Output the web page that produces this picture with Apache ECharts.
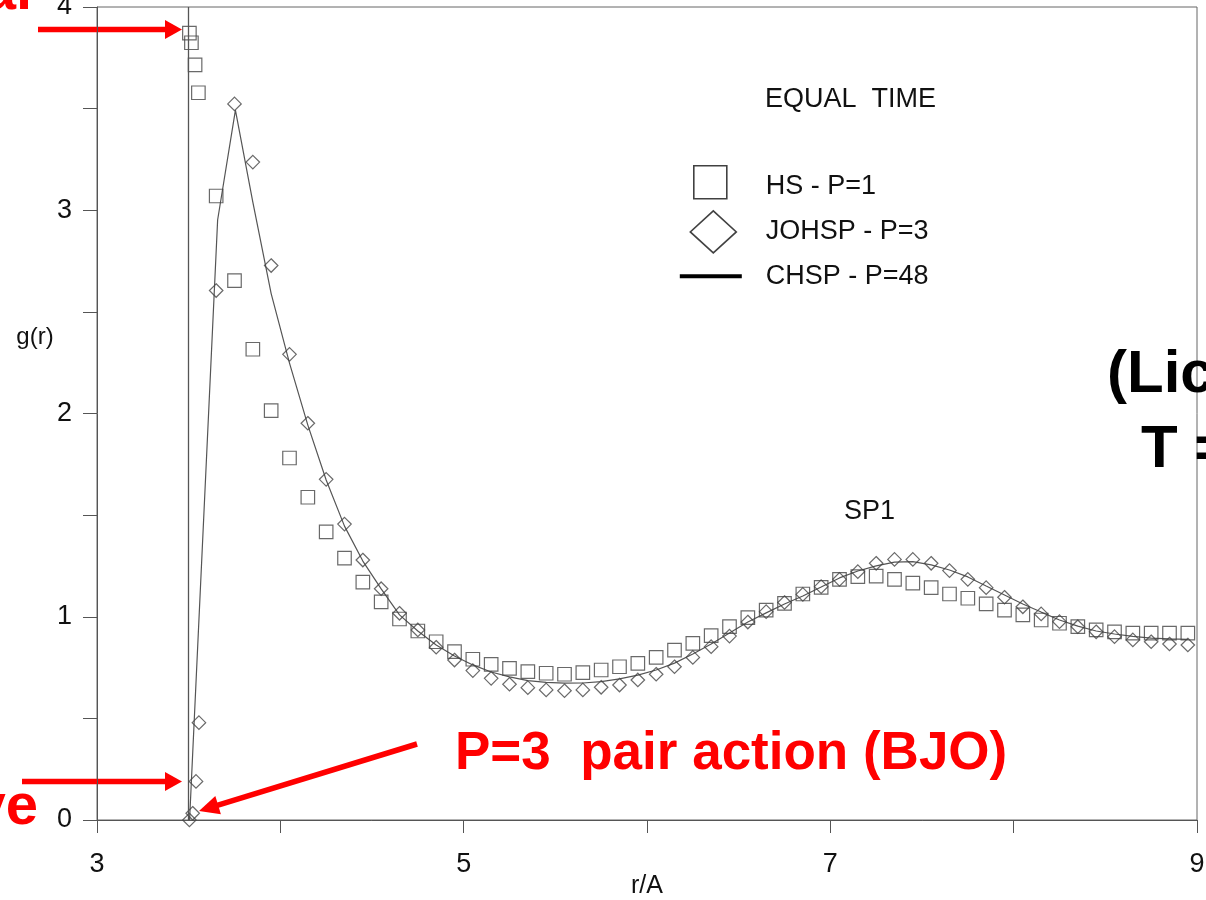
<!DOCTYPE html>
<html><head><meta charset="utf-8">
<script src="https://cdn.jsdelivr.net/npm/echarts@6/dist/echarts.min.js"></script>
<style>html,body{margin:0;padding:0;background:#fff;}#c{width:1206px;height:900px;}</style>
</head><body><div id="c"></div>
<script>
// ---- data ----
const xTickLabels = ['3', '5', '7', '9'];
const yTickLabels = ['0', '1', '2', '3', '4'];

// HS - P=1 (squares)
const hsR = [3.504, 3.515, 3.535, 3.553,
  3.65, 3.75, 3.85, 3.95, 4.05, 4.15, 4.25, 4.35, 4.45, 4.55, 4.65, 4.75, 4.85, 4.95,
  5.05, 5.15, 5.25, 5.35, 5.45, 5.55, 5.65, 5.75, 5.85, 5.95, 6.05, 6.15, 6.25, 6.35,
  6.45, 6.55, 6.65, 6.75, 6.85, 6.95, 7.05, 7.15, 7.25, 7.35, 7.45, 7.55, 7.65, 7.75,
  7.85, 7.95, 8.05, 8.15, 8.25, 8.35, 8.45, 8.55, 8.65, 8.75, 8.85, 8.95];
const hsG = [3.871, 3.824, 3.715, 3.578,
  3.070, 2.654, 2.316, 2.014, 1.781, 1.588, 1.418, 1.288, 1.170, 1.073, 0.989, 0.930, 0.877, 0.828,
  0.791, 0.766, 0.746, 0.730, 0.722, 0.717, 0.725, 0.738, 0.754, 0.771, 0.800, 0.836, 0.869, 0.907,
  0.951, 0.996, 1.033, 1.066, 1.112, 1.145, 1.184, 1.197, 1.200, 1.184, 1.165, 1.143, 1.112, 1.091,
  1.063, 1.033, 1.009, 0.984, 0.968, 0.951, 0.935, 0.926, 0.919, 0.919, 0.919, 0.919];

// JOHSP - P=3 (diamonds)
const joR = [3.504, 3.522, 3.540, 3.556,
  3.65, 3.75, 3.85, 3.95, 4.05, 4.15, 4.25, 4.35, 4.45, 4.55, 4.65, 4.75, 4.85, 4.95,
  5.05, 5.15, 5.25, 5.35, 5.45, 5.55, 5.65, 5.75, 5.85, 5.95, 6.05, 6.15, 6.25, 6.35,
  6.45, 6.55, 6.65, 6.75, 6.85, 6.95, 7.05, 7.15, 7.25, 7.35, 7.45, 7.55, 7.65, 7.75,
  7.85, 7.95, 8.05, 8.15, 8.25, 8.35, 8.45, 8.55, 8.65, 8.75, 8.85, 8.95];
const joG = [0.000, 0.033, 0.190, 0.479,
  2.605, 3.523, 3.237, 2.728, 2.291, 1.952, 1.676, 1.456, 1.279, 1.138, 1.017, 0.935, 0.850, 0.787,
  0.735, 0.697, 0.668, 0.651, 0.640, 0.636, 0.640, 0.653, 0.664, 0.689, 0.717, 0.754, 0.800, 0.853,
  0.905, 0.974, 1.025, 1.070, 1.110, 1.148, 1.184, 1.222, 1.263, 1.282, 1.282, 1.263, 1.227, 1.184,
  1.143, 1.096, 1.049, 1.014, 0.976, 0.951, 0.926, 0.902, 0.886, 0.877, 0.866, 0.861];

// CHSP - P=48 (line)
const chR = [3.505, 3.658, 3.755,
  3.85, 3.95, 4.05, 4.15, 4.25, 4.35, 4.45, 4.55, 4.65, 4.75, 4.85, 4.95,
  5.05, 5.15, 5.25, 5.35, 5.45, 5.55, 5.65, 5.75, 5.85, 5.95, 6.05, 6.15, 6.25, 6.35,
  6.45, 6.55, 6.65, 6.75, 6.85, 6.95, 7.05, 7.15, 7.25, 7.35, 7.45, 7.55, 7.65, 7.75,
  7.85, 7.95, 8.05, 8.15, 8.25, 8.35, 8.45, 8.55, 8.65, 8.75, 8.85, 8.95];
const chG = [0.000, 2.952, 3.493,
  3.040, 2.590, 2.248, 1.943, 1.673, 1.446, 1.274, 1.137, 1.009, 0.930, 0.861, 0.807,
  0.763, 0.728, 0.704, 0.686, 0.677, 0.673, 0.674, 0.681, 0.694, 0.713, 0.738, 0.772, 0.817, 0.866,
  0.920, 0.974, 1.019, 1.063, 1.102, 1.146, 1.191, 1.225, 1.250, 1.269, 1.271, 1.255, 1.230, 1.196,
  1.151, 1.107, 1.063, 1.023, 0.984, 0.954, 0.930, 0.915, 0.903, 0.895, 0.891, 0.889];

const hardCoreR = 3.505; // vertical reference line

const seriesNames = ['HS - P=1', 'JOHSP - P=3', 'CHSP - P=48'];

// ---- chart ----
const FONT = '"Liberation Sans", Arial, Helvetica, sans-serif';
const RED = '#ff0000';
const chart = echarts.init(document.getElementById('c'), null, { renderer: 'canvas' });

function pairs(xs, ys) { return xs.map((x, i) => [x, ys[i]]); }

function arrow(x1, y1, x2, y2, headLen, headW, w) {
  const dx = x2 - x1, dy = y2 - y1, L = Math.hypot(dx, dy);
  const ux = dx / L, uy = dy / L, px = -uy, py = ux;
  const bx = x2 - ux * headLen, by = y2 - uy * headLen;
  return [
    { type: 'line', silent: true, shape: { x1: x1, y1: y1, x2: bx + ux, y2: by + uy },
      style: { stroke: RED, lineWidth: w } },
    { type: 'polygon', silent: true,
      shape: { points: [[x2, y2], [bx + px * headW / 2, by + py * headW / 2], [bx - px * headW / 2, by - py * headW / 2]] },
      style: { fill: RED } }
  ];
}

function txt(text, x, y, size, opts) {
  opts = opts || {};
  return { type: 'text', x: x, y: y, silent: true, z: 100,
    style: { text: text, font: (opts.bold ? 'bold ' : '') + size + 'px ' + FONT,
      fill: opts.color || '#111', align: opts.align || 'left', verticalAlign: 'middle' } };
}

const markerStyle = { color: 'transparent', borderColor: '#444', borderWidth: 1.2 };

const option = {
  animation: false,
  backgroundColor: '#ffffff',
  grid: { left: 97, right: 9, top: 7, bottom: 80, containLabel: false, outerBoundsMode: 'none',
    show: true, borderColor: '#666', borderWidth: 1, backgroundColor: 'transparent' },
  xAxis: {
    type: 'value', min: 3, max: 9, interval: 1,
    axisLine: { lineStyle: { color: '#555', width: 1 } },
    axisTick: { length: 13, lineStyle: { color: '#555', width: 1 } },
    axisLabel: { fontSize: 27, color: '#111', fontFamily: FONT, margin: 31,
      formatter: v => (xTickLabels.indexOf(String(v)) >= 0 ? String(v) : '') },
    splitLine: { show: false },
    name: 'r/A', nameLocation: 'middle', nameGap: 54, nameMoveOverlap: false,
    nameTextStyle: { fontSize: 25, color: '#111', fontFamily: FONT }
  },
  yAxis: {
    type: 'value', min: 0, max: 4, interval: 0.5,
    axisLine: { show: true, lineStyle: { color: '#555', width: 1 } },
    axisTick: { show: true, length: 14, lineStyle: { color: '#555', width: 1 } },
    axisLabel: { fontSize: 27, color: '#111', fontFamily: FONT, margin: 25,
      formatter: v => (yTickLabels.indexOf(String(v)) >= 0 ? String(v) : '') },
    splitLine: { show: false }
  },
  legend: {
    orient: 'vertical', left: 679, top: 165, padding: 0,
    itemWidth: 62, itemHeight: 42, itemGap: 1.5, selectedMode: false,
    textStyle: { fontSize: 27, color: '#111', fontFamily: FONT, padding: [0, 0, 0, 19] },
    data: [
      { name: seriesNames[0], icon: 'path://M0,0M62,42M14,0h33v33h-33z',
        itemStyle: { color: 'transparent', borderColor: '#111', borderWidth: 1.6 } },
      { name: seriesNames[1], icon: 'path://M0,0M62,42M33.5,0L56.5,21L33.5,42L10.5,21z',
        itemStyle: { color: 'transparent', borderColor: '#111', borderWidth: 1.6 } },
      { name: seriesNames[2], icon: 'path://M0,0M62,42M0,19h62v4h-62z',
        itemStyle: { color: '#000', borderWidth: 0 } }
    ]
  },
  series: [
    { type: 'scatter', name: seriesNames[0], data: pairs(hsR, hsG), symbol: 'rect', symbolSize: 13.5,
      itemStyle: markerStyle, z: 3 },
    { type: 'scatter', name: seriesNames[1], data: pairs(joR, joG), symbol: 'diamond', symbolSize: 13.5,
      itemStyle: markerStyle, z: 3 },
    { type: 'line', name: seriesNames[2], data: pairs(chR, chG), showSymbol: false, symbol: 'none',
      lineStyle: { color: '#555', width: 1.2 }, itemStyle: { color: '#555' }, z: 2,
      markLine: { silent: true, symbol: 'none', label: { show: false },
        lineStyle: { color: '#555', width: 1.3, type: 'solid' },
        data: [{ xAxis: hardCoreR }] } }
  ],
  graphic: [
    txt('g(r)', 35, 337, 24, { align: 'center' }),
    txt('EQUAL  TIME', 765, 100, 27),
    txt('SP1', 844, 512, 27),
    txt('P=3  pair action (BJO)', 455, 754, 53, { bold: true, color: RED }),
    txt('(Lic', 1107, 375, 60, { bold: true, color: '#000' }),
    txt('T =', 1141, 450, 60, { bold: true, color: '#000' }),
    txt('al', 32, -7, 58, { bold: true, color: RED, align: 'right' }),
    txt('ve', 38, 808, 58, { bold: true, color: RED, align: 'right' })
  ].concat(arrow(38, 29.5, 182, 29.5, 17, 19, 5.5))
   .concat(arrow(22, 781.5, 182, 781.5, 17, 19, 5.5))
   .concat(arrow(417, 744, 199, 811, 20, 19, 5.5))
};
chart.setOption(option);
</script></body></html>
